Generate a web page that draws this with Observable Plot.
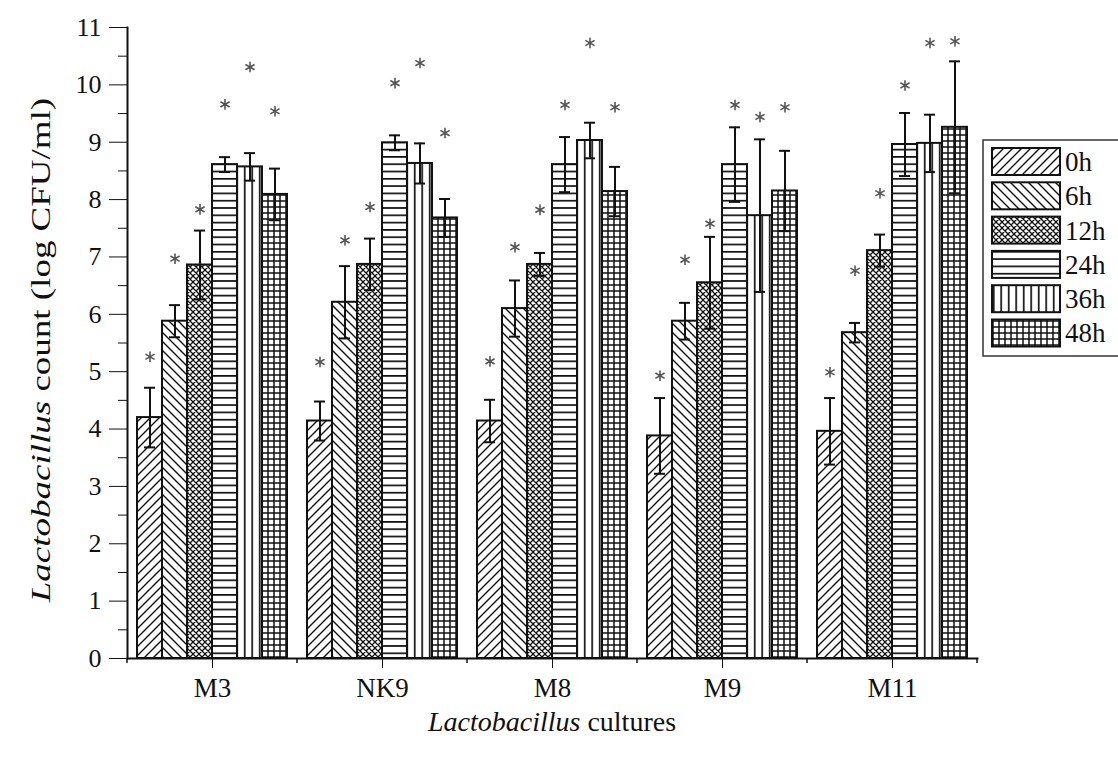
<!DOCTYPE html>
<html>
<head>
<meta charset="utf-8">
<script src="https://cdn.jsdelivr.net/npm/d3@7"></script>
<script src="https://cdn.jsdelivr.net/npm/@observablehq/plot@0.6"></script>
<style>
  html, body { margin: 0; padding: 0; background: #fff; }
  #chart { width: 1118px; height: 763px; }
</style>
</head>
<body>
<svg width="0" height="0" style="position:absolute">
  <defs>
    <pattern id="pat0" patternUnits="userSpaceOnUse" width="9" height="9">
      <rect width="9" height="9" fill="#fff"/>
      <path d="M-2,2 L2,-2 M0,9 L9,0 M7,11 L11,7" stroke="#111" stroke-width="1.4"/>
    </pattern>
    <pattern id="pat1" patternUnits="userSpaceOnUse" width="9" height="9">
      <rect width="9" height="9" fill="#fff"/>
      <path d="M-2,7 L2,11 M0,0 L9,9 M7,-2 L11,2" stroke="#111" stroke-width="1.4"/>
    </pattern>
    <pattern id="pat2" patternUnits="userSpaceOnUse" width="6" height="6">
      <rect width="6" height="6" fill="#fff"/>
      <path d="M0,0 L6,6 M6,0 L0,6 M-1,5 L1,7 M5,-1 L7,1 M-1,1 L1,-1 M5,7 L7,5" stroke="#111" stroke-width="1.3"/>
    </pattern>
    <pattern id="pat3" patternUnits="userSpaceOnUse" width="8" height="7.3">
      <rect width="8" height="7.3" fill="#fff"/>
      <path d="M0,3.6 L8,3.6" stroke="#111" stroke-width="1.7"/>
    </pattern>
    <pattern id="pat4" patternUnits="userSpaceOnUse" width="7.5" height="8">
      <rect width="7.5" height="8" fill="#fff"/>
      <path d="M3.7,0 L3.7,8" stroke="#111" stroke-width="1.7"/>
    </pattern>
    <pattern id="pat5" patternUnits="userSpaceOnUse" width="6" height="6">
      <rect width="6" height="6" fill="#fff"/>
      <path d="M3,0 L3,6 M0,3 L6,3" stroke="#111" stroke-width="1.5"/>
    </pattern>
  </defs>
</svg>
<div id="chart"></div>
<script>
// ---- data ----
const cultures = ["M3", "NK9", "M8", "M9", "M11"];
const times = ["0h", "6h", "12h", "24h", "36h", "48h"];

// mean log CFU/ml per time point, in culture order
const mean0h  = [4.20, 4.14, 4.14, 3.88, 3.96];
const mean6h  = [5.88, 6.21, 6.10, 5.88, 5.68];
const mean12h = [6.86, 6.87, 6.87, 6.55, 7.11];
const mean24h = [8.61, 8.99, 8.61, 8.61, 8.96];
const mean36h = [8.57, 8.63, 9.03, 7.72, 8.98];
const mean48h = [8.09, 7.68, 8.14, 8.15, 9.26];

// error (SD) per time point
const err0h  = [0.52, 0.34, 0.37, 0.66, 0.58];
const err6h  = [0.28, 0.63, 0.49, 0.32, 0.17];
const err12h = [0.60, 0.45, 0.20, 0.80, 0.28];
const err24h = [0.13, 0.13, 0.48, 0.65, 0.55];
const err36h = [0.24, 0.35, 0.31, 1.33, 0.50];
const err48h = [0.45, 0.33, 0.43, 0.70, 1.15];

// level of the significance asterisk
const star0h  = [5.26, 5.17, 5.18, 4.93, 4.99];
const star6h  = [6.97, 7.29, 7.17, 6.95, 6.76];
const star12h = [7.83, 7.87, 7.82, 7.58, 8.11];
const star24h = [9.66, 10.03, 9.65, 9.65, 9.99];
const star36h = [10.31, 10.38, 10.73, 9.44, 10.73];
const star48h = [9.54, 9.16, 9.61, 9.61, 10.76];

const yTicks = [0, 1, 2, 3, 4, 5, 6, 7, 8, 9, 10, 11];

// ---- build the table ----
const means = [mean0h, mean6h, mean12h, mean24h, mean36h, mean48h];
const errs = [err0h, err6h, err12h, err24h, err36h, err48h];
const stars = [star0h, star6h, star12h, star24h, star36h, star48h];
const data = [];
cultures.forEach((c, ci) => {
  times.forEach((t, ti) => {
    data.push({culture: c, time: t, v: means[ti][ci], sd: errs[ti][ci], star: stars[ti][ci]});
  });
});
const patterns = times.map((t, i) => `url(#pat${i})`);
const minorY = yTicks.slice(0, -1).map(d => d + 0.5);
const ff = "'Liberation Serif', 'DejaVu Serif', serif";

const plot = Plot.plot({
  width: 1118,
  height: 763,
  marginLeft: 126,
  marginRight: 141,
  marginTop: 27,
  marginBottom: 105,
  style: {fontFamily: ff, fontSize: "24px", color: "#111", background: "#fff"},
  fx: {domain: cultures, padding: 0, label: null},
  x: {domain: times, padding: 0, insetLeft: 8.5, insetRight: 8.5, axis: null, label: null},
  y: {domain: [0, 11], label: null, axis: null},
  color: {domain: times, range: patterns},
  marks: [
    Plot.barY(data, {fx: "culture", x: "time", y: "v", fill: "time", stroke: "#111", strokeWidth: 2}),
    Plot.ruleX(data, {fx: "culture", x: "time", y1: d => d.v - d.sd, y2: d => d.v + d.sd, stroke: "#111", strokeWidth: 2}),
    Plot.tickY(data, {fx: "culture", x: "time", y: d => d.v + d.sd, insetLeft: 7, insetRight: 7, stroke: "#111", strokeWidth: 2}),
    Plot.tickY(data, {fx: "culture", x: "time", y: d => d.v - d.sd, insetLeft: 7, insetRight: 7, stroke: "#111", strokeWidth: 2}),
    Plot.dot(data, {fx: "culture", x: "time", y: "star", symbol: "asterisk", r: 5, stroke: "#555", strokeWidth: 1.6}),
    Plot.axisY({ticks: yTicks, tickSize: 18, tickPadding: 8, fontSize: 26, label: null, stroke: "#111"}),
    Plot.axisY({ticks: minorY, tickSize: 9, tickFormat: () => "", label: null, stroke: "#111"}),
    Plot.axisFx({anchor: "bottom", tickSize: 10, tickPadding: 9, fontSize: 27, label: null}),
    Plot.frame({anchor: "left", facet: "super", stroke: "#111", strokeWidth: 2}),
    Plot.frame({anchor: "bottom", facet: "super", stroke: "#111", strokeWidth: 2})
  ]
});
document.getElementById("chart").appendChild(plot);

// ---- extras: minor x ticks at group boundaries, titles, legend ----
const svg = d3.select(plot);
const fxs = plot.scale("fx");
const ys = plot.scale("y");
const y0 = ys.apply(0);
const bounds = cultures.map(c => fxs.apply(c));
bounds.push(fxs.apply(cultures[cultures.length - 1]) + fxs.bandwidth);
svg.append("g").selectAll("line").data(bounds).join("line")
  .attr("x1", d => d).attr("x2", d => d).attr("y1", y0).attr("y2", y0 + 5)
  .attr("stroke", "#111").attr("stroke-width", 1.5);

const yt = svg.append("text")
  .attr("transform", "translate(50,350) rotate(-90) scale(1.37,1)")
  .attr("text-anchor", "middle")
  .attr("font-family", ff).attr("font-size", 27).attr("fill", "#111");
yt.append("tspan").attr("font-style", "italic").text("Lactobacillus");
yt.append("tspan").text(" count (log CFU/ml)");

const xt = svg.append("text")
  .attr("x", 552).attr("y", 731)
  .attr("text-anchor", "middle")
  .attr("font-family", ff).attr("font-size", 28).attr("fill", "#111");
xt.append("tspan").attr("font-style", "italic").text("Lactobacillus");
xt.append("tspan").text(" cultures");

const lg = svg.append("g");
lg.append("rect").attr("x", 983).attr("y", 140).attr("width", 150).attr("height", 216)
  .attr("fill", "#fff").attr("stroke", "#333").attr("stroke-width", 1.5);
times.forEach((t, i) => {
  const yy = 148 + i * 34.3;
  lg.append("rect").attr("x", 992).attr("y", yy).attr("width", 68).attr("height", 27)
    .attr("fill", patterns[i]).attr("stroke", "#111").attr("stroke-width", 2);
  lg.append("text").attr("x", 1065).attr("y", yy + 13.5).attr("dy", "0.35em")
    .attr("text-anchor", "start")
    .attr("font-family", ff).attr("font-size", 27).attr("fill", "#111").text(t);
});
</script>
</body>
</html>
